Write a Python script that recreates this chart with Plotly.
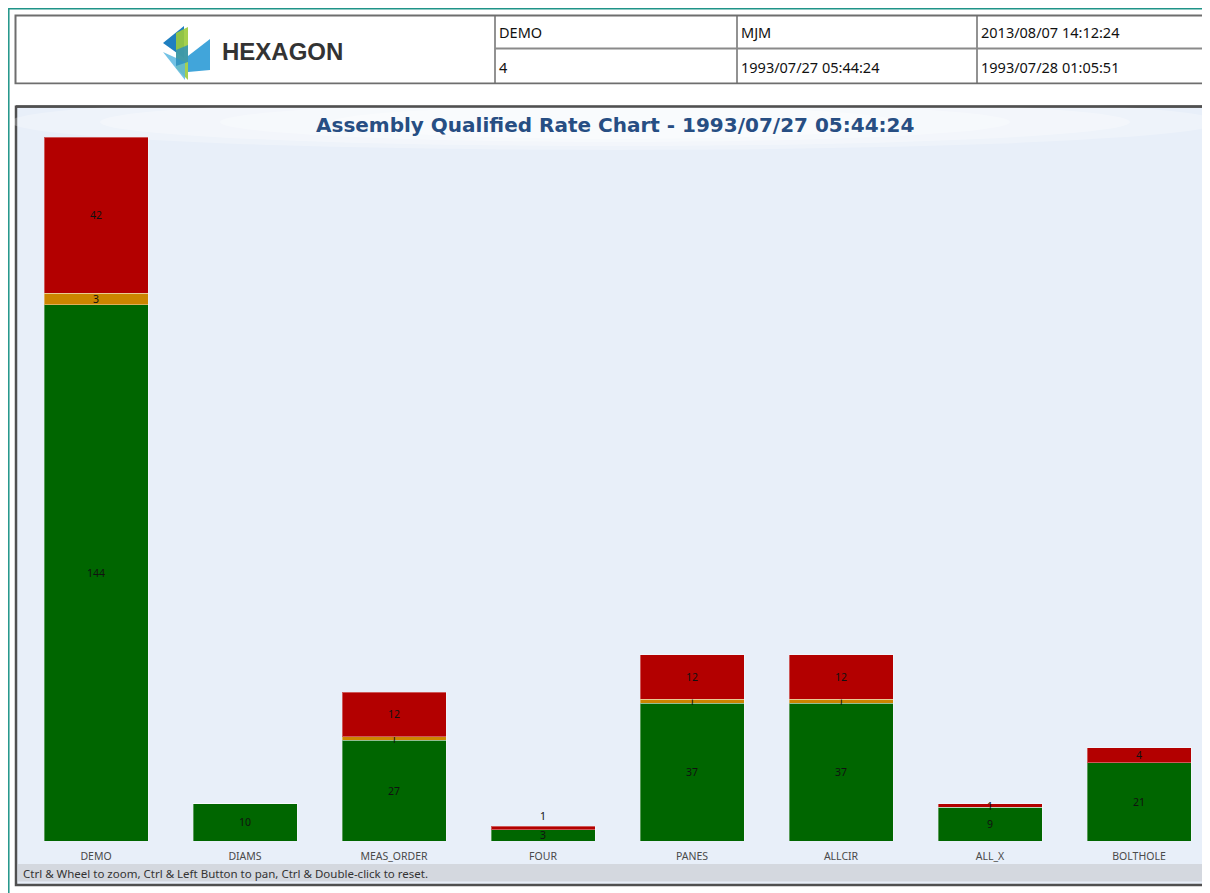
import plotly.graph_objects as go

# ---------------- data ----------------
categories = ["DEMO", "DIAMS", "MEAS_ORDER", "FOUR", "PANES", "ALLCIR", "ALL_X", "BOLTHOLE"]
qualified = [144, 10, 27, 3, 37, 37, 9, 21]
warning = [3, 0, 1, 0, 1, 1, 0, 0]
failed = [42, 0, 12, 1, 12, 12, 1, 4]

header_row1 = ["DEMO", "MJM", "2013/08/07 14:12:24"]
header_row2 = ["4", "1993/07/27 05:44:24", "1993/07/28 01:05:51"]
title_text = "Assembly Qualified Rate Chart - 1993/07/27 05:44:24"
footer_text = "Ctrl & Wheel to zoom, Ctrl & Left Button to pan, Ctrl & Double-click to reset."

# ---------------- geometry helpers ----------------
OFF = 8  # page body margin
W, H = 1202, 885
L, R, T, B = 14, 0, 129, 52
PW, PH = W - L - R, H - T - B


def X(px):
    return (px - OFF - L) / PW


def Y(py):
    return (H - B - (py - OFF)) / PH


def lbl(vals):
    return [str(v) if v else "" for v in vals]


fig = go.Figure()

GREEN = "#006600"
ORANGE = "#CC8500"
RED = "#B30000"
edge = dict(color="rgba(255,255,255,0.35)", width=1)
tf = dict(family="Noto Sans, DejaVu Sans, sans-serif", size=10.5, color="#111111")

fig.add_bar(x=categories, y=qualified, marker=dict(color=GREEN, line=edge),
            text=lbl(qualified), textposition="inside", insidetextanchor="middle",
            textangle=0, constraintext="none", textfont=tf, name="Qualified")
fig.add_bar(x=categories, y=warning, marker=dict(color=ORANGE, line=edge),
            text=lbl(warning), textposition="inside", insidetextanchor="middle",
            textangle=0, constraintext="none", textfont=tf, name="Warning")
red_pos = ["outside" if (q + w + f) < 6 and f == 1 and q < 5 else "inside"
           for q, w, f in zip(qualified, warning, failed)]
fig.add_bar(x=categories, y=failed, marker=dict(color=RED, line=edge),
            text=lbl(failed), textposition=red_pos, insidetextanchor="middle",
            textangle=0, constraintext="none", textfont=tf, cliponaxis=False,
            name="Failed")

shapes = []
# outer teal frame (as close to the page edge as the figure allows)
shapes.append(dict(type="rect", xref="paper", yref="paper", x0=X(8.8), x1=X(1230),
                   y0=Y(8.8), y1=Y(910), line=dict(color="#1F9488", width=1.5),
                   fillcolor="white", layer="below"))
# header table
shapes.append(dict(type="rect", xref="paper", yref="paper", x0=X(15.5), x1=X(1230),
                   y0=Y(15.5), y1=Y(83.5), line=dict(color="#6E6E6E", width=2),
                   fillcolor="white", layer="below"))
for cx in [495, 737, 977]:
    shapes.append(dict(type="line", xref="paper", yref="paper", x0=X(cx), x1=X(cx),
                       y0=Y(15.5), y1=Y(83.5), line=dict(color="#6E6E6E", width=1.5),
                       layer="below"))
shapes.append(dict(type="line", xref="paper", yref="paper", x0=X(495), x1=X(1230),
                   y0=Y(48.5), y1=Y(48.5), line=dict(color="#8A8A8A", width=2),
                   layer="below"))
# chart panel
shapes.append(dict(type="rect", xref="paper", yref="paper", x0=X(16), x1=X(1230),
                   y0=Y(106.5), y1=Y(885), line=dict(color="#505050", width=2.5),
                   fillcolor="#E8EFF9", layer="below"))
# soft title glow (stacked translucent ellipses)
for (gx0, gx1, gy0, gy1, op) in [(10, 1220, 94, 150, 0.25), (100, 1130, 98, 146, 0.3),
                                  (220, 1010, 102, 142, 0.3), (330, 900, 106, 139, 0.3)]:
    shapes.append(dict(type="circle", xref="paper", yref="paper", x0=X(gx0), x1=X(gx1),
                       y0=Y(gy0), y1=Y(gy1), line=dict(width=0),
                       fillcolor="white", opacity=op, layer="below"))
# cover glow overflow above the panel and redraw the panel top border
shapes.append(dict(type="rect", xref="paper", yref="paper", x0=X(10), x1=X(1230),
                   y0=Y(84.5), y1=Y(105.2), line=dict(width=0),
                   fillcolor="white", layer="below"))
shapes.append(dict(type="line", xref="paper", yref="paper", x0=X(16), x1=X(1230),
                   y0=Y(106.5), y1=Y(106.5), line=dict(color="#505050", width=2.5),
                   layer="below"))
# footer bar
shapes.append(dict(type="rect", xref="paper", yref="paper", x0=X(18), x1=X(1230),
                   y0=Y(864), y1=Y(881.5), line=dict(width=0),
                   fillcolor="#D4D8DF", layer="below"))


# logo icon
def poly(pts, color, op=1.0):
    d = "M " + " L ".join(f"{X(a):.5f},{Y(b):.5f}" for a, b in pts) + " Z"
    return dict(type="path", xref="paper", yref="paper", path=d,
                fillcolor=color, line=dict(width=0), opacity=op, layer="below")


shapes.append(poly([(163, 43), (184, 26), (184, 58)], "#1F7FC0"))
shapes.append(poly([(176, 33), (188, 27), (188, 80), (176, 68)], "#9CCB3B", 0.9))
shapes.append(poly([(188, 56), (210, 39), (210, 70), (188, 72)], "#2C9BD6", 0.9))
shapes.append(poly([(163, 52), (185, 62), (185, 80)], "#5BB7E0", 0.85))
shapes.append(poly([(176, 50), (188, 45), (188, 62), (176, 66)], "#2B8FBF", 0.8))

annotations = []
cell_font = dict(family="Noto Sans, DejaVu Sans, sans-serif", size=14.5, color="#111111")
for cx, t1, t2 in zip([497, 739, 979], header_row1, header_row2):
    annotations.append(dict(xref="paper", yref="paper", x=X(cx), y=Y(32), text=t1,
                            showarrow=False, xanchor="left", yanchor="middle", font=cell_font))
    annotations.append(dict(xref="paper", yref="paper", x=X(cx), y=Y(67), text=t2,
                            showarrow=False, xanchor="left", yanchor="middle", font=cell_font))
annotations.append(dict(xref="paper", yref="paper", x=X(220), y=Y(52), text="<b>HEXAGON</b>",
                        showarrow=False, xanchor="left", yanchor="middle",
                        font=dict(family="Liberation Sans, Arial, sans-serif", size=24,
                                  color="#333333")))
annotations.append(dict(xref="paper", yref="paper", x=X(615), y=Y(125), text=f"<b>{title_text}</b>",
                        showarrow=False, xanchor="center", yanchor="middle",
                        font=dict(family="DejaVu Sans, sans-serif", size=20, color="#274E83")))
annotations.append(dict(xref="paper", yref="paper", x=X(21), y=Y(873), text=footer_text,
                        showarrow=False, xanchor="left", yanchor="middle",
                        font=dict(family="Noto Sans, DejaVu Sans, sans-serif", size=11.5,
                                  color="#333333")))

x0 = -74 / 149
fig.update_layout(
    width=W, height=H,
    margin=dict(l=L, r=R, t=T, b=B, pad=0),
    paper_bgcolor="white", plot_bgcolor="rgba(0,0,0,0)",
    barmode="stack", bargap=1 - 104 / 149,
    showlegend=False,
    shapes=shapes, annotations=annotations,
    xaxis=dict(range=[x0, x0 + PW / 149], showgrid=False, zeroline=False, showline=False,
               ticks="outside", ticklen=5, tickcolor="rgba(0,0,0,0)",
               tickfont=dict(family="Noto Sans, DejaVu Sans, sans-serif", size=10.5,
                             color="#4A4A4A"), fixedrange=True),
    yaxis=dict(range=[0, 189], visible=False, showgrid=False, zeroline=False,
               fixedrange=True),
)

fig.write_html("out.html")
